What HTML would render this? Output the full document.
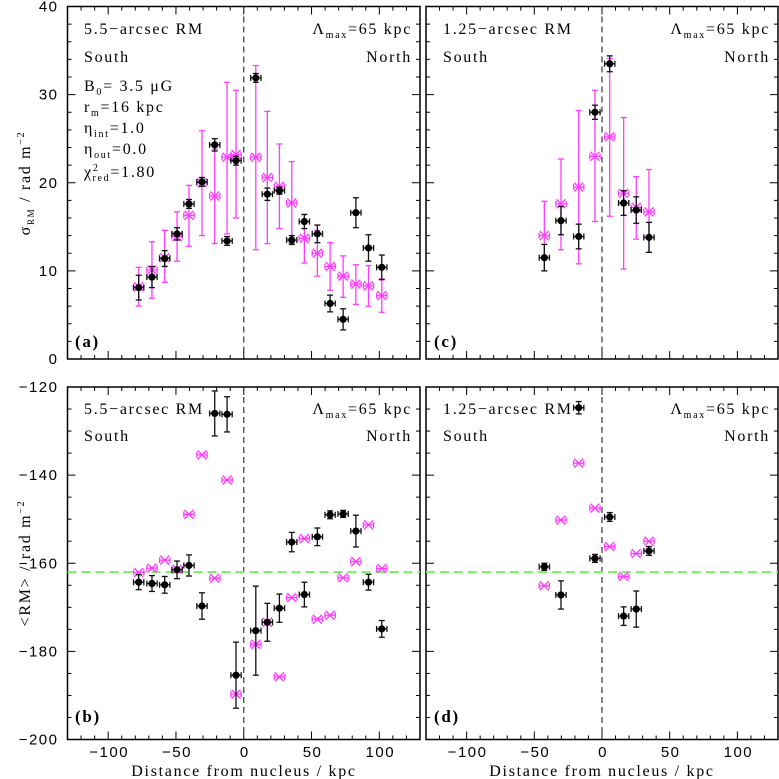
<!DOCTYPE html>
<html><head><meta charset="utf-8"><style>
html,body{margin:0;padding:0;background:#fff;}
svg{display:block;}
.sf{font-family:"Liberation Serif",serif;letter-spacing:1.7px;}
.ss{font-family:"Liberation Sans",sans-serif;letter-spacing:1.5px;}
</style></head><body>
<svg id="chart" width="779" height="779" viewBox="0 0 779 779" xmlns="http://www.w3.org/2000/svg">
<g id="layer"></g>
<g class="sf" font-size="16" fill="#000">
  <text x="84" y="34">5.5−arcsec RM</text>
  <text x="84" y="62">South</text>
  <text x="412" y="34" text-anchor="end">Λ<tspan font-size="10" dy="4">max</tspan><tspan dy="-4">=65 kpc</tspan></text>
  <text x="412" y="62" text-anchor="end">North</text>
  <text x="84" y="91">B<tspan font-size="10" dy="4">0</tspan><tspan dy="-4">= 3.5 μG</tspan></text>
  <text x="84" y="112">r<tspan font-size="10" dy="4">m</tspan><tspan dy="-4">=16 kpc</tspan></text>
  <text x="84" y="133">η<tspan font-size="10" dy="4">int</tspan><tspan dy="-4">=1.0</tspan></text>
  <text x="84" y="154">η<tspan font-size="10" dy="4">out</tspan><tspan dy="-4">=0.0</tspan></text>
  <text x="84" y="177">χ<tspan font-size="10" dy="-6">2</tspan><tspan font-size="10" dx="-7" dy="10">red</tspan><tspan dy="-4">=1.80</tspan></text>
  <text x="75" y="347" font-weight="bold" font-size="17">(a)</text>

  <text x="443" y="34">1.25−arcsec RM</text>
  <text x="443" y="62">South</text>
  <text x="770" y="34" text-anchor="end">Λ<tspan font-size="10" dy="4">max</tspan><tspan dy="-4">=65 kpc</tspan></text>
  <text x="770" y="62" text-anchor="end">North</text>
  <text x="434" y="347" font-weight="bold" font-size="17">(c)</text>

  <text x="84" y="414">5.5−arcsec RM</text>
  <text x="84" y="441">South</text>
  <text x="412" y="414" text-anchor="end">Λ<tspan font-size="10" dy="4">max</tspan><tspan dy="-4">=65 kpc</tspan></text>
  <text x="412" y="441" text-anchor="end">North</text>
  <text x="75" y="722" font-weight="bold" font-size="17">(b)</text>

  <text x="443" y="414">1.25−arcsec RM</text>
  <text x="443" y="441">South</text>
  <text x="770" y="414" text-anchor="end">Λ<tspan font-size="10" dy="4">max</tspan><tspan dy="-4">=65 kpc</tspan></text>
  <text x="770" y="441" text-anchor="end">North</text>
  <text x="434" y="722" font-weight="bold" font-size="17">(d)</text>

  <text transform="translate(30,183) rotate(-90)" text-anchor="middle">σ<tspan font-size="9" dy="4">RM</tspan><tspan dy="-4"> / rad m</tspan><tspan font-size="10" dy="-6">−2</tspan></text>
  <text transform="translate(30,563) rotate(-90)" text-anchor="middle">&lt;RM&gt; / rad m<tspan font-size="10" dy="-6">−2</tspan></text>
  <text x="244" y="776" text-anchor="middle">Distance from nucleus / kpc</text>
  <text x="602" y="776" text-anchor="middle">Distance from nucleus / kpc</text>
</g>
</svg>
<script>
// ---- data ----
const kpc55 = [-77.5,-67.7,-58.3,-49.2,-40.4,-30.8,-21.4,-12.3,-5.7,8.9,17.4,26.3,35.4,44.7,54.3,63.7,73.3,82.7,92,101.8];
const sigBlack55 = [8.1,9.3,11.4,14.2,17.6,20.1,24.3,13.4,22.5,31.9,18.7,19.1,13.5,15.6,14.2,6.3,4.5,16.6,12.6,10.4];
const sigBlackErr55 = [1.4,1.2,0.9,0.7,0.5,0.5,0.7,0.5,0.5,0.5,0.7,0.4,0.5,0.8,1.0,0.95,1.2,1.7,1.5,1.4];
const sigMag55 = [8.2,10.1,11.5,13.9,16.3,20.0,18.5,22.9,23.2,22.9,20.6,19.6,17.7,13.7,12.0,10.5,9.4,8.5,8.3,7.2];
const sigMagHi55 = [10.4,13.3,14.6,16.7,19.7,25.9,23.8,31.4,30.5,33.3,28.1,24.4,22.4,16.4,14.6,13.2,11.7,10.7,10.6,9.1];
const sigMagLo55 = [6.0,6.9,8.7,11.1,12.8,14.0,13.1,14.2,16.0,12.4,13.1,14.8,13.1,10.9,9.4,7.8,7.0,6.2,6.0,5.3];
const rmBlack55 = [-164.3,-164.6,-164.9,-161.5,-160.5,-169.7,-126.0,-126.2,-185.4,-175.3,-173.4,-170.2,-155.2,-167.1,-154.0,-149.0,-148.8,-152.7,-164.3,-174.9];
const rmBlackErr55 = [1.7,1.8,1.9,2.0,2.4,3.0,5.1,4.0,7.5,10.1,4.3,3.2,2.2,2.8,2.0,0.9,0.8,3.6,1.8,1.9];
const rmMag55 = [-162.1,-161.1,-159.3,-161.4,-148.9,-135.4,-163.4,-141.1,-189.7,-178.4,-173.4,-185.8,-167.8,-154.4,-172.7,-171.8,-163.3,-159.6,-151.3,-161.2];
const kpc125 = [-42.6,-30.3,-17.2,-5.2,5.7,16.0,25.3,34.7];
const sigBlack125 = [11.5,15.7,13.9,28.0,33.5,17.7,16.9,13.8];
const sigBlackErr125 = [1.5,1.6,1.4,0.8,0.9,1.4,1.5,1.7];
const sigMag125 = [14.0,17.6,19.5,23.0,25.2,18.8,17.2,16.7];
const sigMagHi125 = [17.9,22.7,28.2,30.5,34.1,27.4,20.7,21.5];
const sigMagLo125 = [10.0,12.4,10.8,15.6,16.2,10.2,13.6,12.1];
const rmBlack125 = [-160.8,-167.2,-124.7,-158.9,-149.5,-172.0,-170.4,-157.2];
const rmBlackErr125 = [0.8,3.2,1.4,0.9,1.0,2.1,4.1,1.0];
const rmMag125 = [-165.1,-150.2,-137.3,-147.5,-156.2,-163.0,-157.8,-155.0];
const rmRef = -162;
const xTicks = [-100,-50,0,50,100];
const xTickLabels = ["−100","−50","0","50","100"];
const sigTicks = [0,10,20,30,40];
const rmTicks = [-200,-180,-160,-140,-120];
const rmTickLabels = ["−200","−180","−160","−140","−120"];
const xErrKpc = 3.8;

const NS = "http://www.w3.org/2000/svg";
const layer = document.getElementById('layer');
function mk(tag, attrs, parent){
  const e = document.createElementNS(NS, tag);
  for (const k in attrs) e.setAttribute(k, attrs[k]);
  (parent||layer).appendChild(e);
  return e;
}
function panel(name, x0, x1, y0, y1, ymin, ymax, yMinor, showY, showX, yTicks, yLabels){
  const p = {x0,x1,y0,y1,ymin,ymax,
    sx: v => x0 + (v + 130) / 260 * (x1 - x0),
    sy: v => y1 - (v - ymin) / (ymax - ymin) * (y1 - y0)};
  const g = mk('g', {});
  
  
  p.g = g;
  for (let k = -130; k <= 130; k += 10) {
    const major = k % 50 === 0;
    const L = major ? 8 : 4;
    const x = p.sx(k);
    mk('line', {x1:x, x2:x, y1:y1, y2:y1-L, stroke:'#000','stroke-width':1}, g);
    mk('line', {x1:x, x2:x, y1:y0, y2:y0+L, stroke:'#000','stroke-width':1}, g);
  }
  for (let v = ymin; v <= ymax + 1e-9; v += yMinor) {
    const major = Math.abs(Math.round(v/10)*10 - v) < 1e-6 && (ymax - ymin === 40 ? true : v % 20 === 0);
    const L = major ? 8 : 4;
    const y = p.sy(v);
    mk('line', {x1:x0, x2:x0+L, y1:y, y2:y, stroke:'#000','stroke-width':1}, g);
    mk('line', {x1:x1, x2:x1-L, y1:y, y2:y, stroke:'#000','stroke-width':1}, g);
  }
  if (showY) {
    yTicks.forEach((v, i) => {
      const t = mk('text', {x:x0-9, y:p.sy(v)+5, 'text-anchor':'end', class:'ss', 'font-size':15}, g);
      
      
      t.textContent = yLabels[i];
    });
  }
  if (showX) {
    xTicks.forEach((v, i) => {
      const t = mk('text', {x:p.sx(v)+1, y:757, 'text-anchor':'middle', class:'ss', 'font-size':15}, g);
      
      
      t.textContent = xTickLabels[i];
    });
  }
  const zl = mk('line', {x1:p.sx(0), x2:p.sx(0), y1:y0, y2:y1, stroke:'#444','stroke-width':1.3,'stroke-dasharray':'6,4'}, g);
  
  
  const fr = mk('rect', {x:x0, y:y0, width:x1-x0, height:y1-y0, fill:'none', stroke:'#000','stroke-width':1.5}, g);
  
  
  return p;
}
function errV(p, x, lo, hi, col, g){
  const a = p.sy(lo), b = p.sy(hi);
  mk('line', {x1:x, x2:x, y1:a, y2:b, stroke:col, 'stroke-width':1.3}, g);
  mk('line', {x1:x-3, x2:x+3, y1:a, y2:a, stroke:col, 'stroke-width':1.3}, g);
  mk('line', {x1:x-3, x2:x+3, y1:b, y2:b, stroke:col, 'stroke-width':1.3}, g);
}
function errH(p, k, y, col, g){
  const a = p.sx(k - xErrKpc), b = p.sx(k + xErrKpc);
  mk('line', {x1:a, x2:b, y1:y, y2:y, stroke:col, 'stroke-width':1.3}, g);
  mk('line', {x1:a, x2:a, y1:y-3, y2:y+3, stroke:col, 'stroke-width':1.3}, g);
  mk('line', {x1:b, x2:b, y1:y-3, y2:y+3, stroke:col, 'stroke-width':1.3}, g);
}
function magenta(p, kpcArr, vals, lo, hi, sname){
  const MC = '#ff3cff';
  kpcArr.forEach((k, i) => {
    const g = mk('g', {}, p.g);
    
    
    const x = p.sx(k), y = p.sy(vals[i]);
    if (lo) errV(p, x, lo[i], hi[i], MC, g);
    errH(p, k, y, MC, g);
    mk('path', {d:`M${x-4.5},${y-4.5}L${x+4.5},${y+4.5}M${x-4.5},${y+4.5}L${x+4.5},${y-4.5}`, stroke:MC, 'stroke-width':1.4}, g);
  });
}
function black(p, kpcArr, vals, err, sname){
  const BC = '#111';
  kpcArr.forEach((k, i) => {
    const g = mk('g', {}, p.g);
    
    
    const x = p.sx(k), y = p.sy(vals[i]);
    errV(p, x, vals[i] - err[i], vals[i] + err[i], BC, g);
    errH(p, k, y, BC, g);
    mk('circle', {cx:x, cy:y, r:3.6, fill:'#000'}, g);
  });
}
const sigLabels = sigTicks.map(String);
const pa = panel('panel-a', 67.5, 420, 6.5, 359, 0, 40, 2, true, false, sigTicks, sigLabels);
const pc = panel('panel-c', 426, 778, 6.5, 359, 0, 40, 2, false, false, sigTicks, sigLabels);
const pb = panel('panel-b', 67.5, 420, 387, 739.5, -200, -120, 5, true, true, rmTicks, rmTickLabels);
const pd = panel('panel-d', 426, 778, 387, 739.5, -200, -120, 5, false, true, rmTicks, rmTickLabels);
[pb, pd].forEach(p => {
  const l = mk('line', {x1:p.x0, x2:p.x1, y1:p.sy(rmRef), y2:p.sy(rmRef), stroke:'#77ee66', 'stroke-width':2, 'stroke-dasharray':'9,5'}, p.g);
  
  
});
magenta(pa, kpc55, sigMag55, sigMagLo55, sigMagHi55, 'model-sigma');
black(pa, kpc55, sigBlack55, sigBlackErr55, 'observed-sigma');
magenta(pc, kpc125, sigMag125, sigMagLo125, sigMagHi125, 'model-sigma');
black(pc, kpc125, sigBlack125, sigBlackErr125, 'observed-sigma');
magenta(pb, kpc55, rmMag55, null, null, 'model-rm');
black(pb, kpc55, rmBlack55, rmBlackErr55, 'observed-rm');
magenta(pd, kpc125, rmMag125, null, null, 'model-rm');
black(pd, kpc125, rmBlack125, rmBlackErr125, 'observed-rm');
</script>
</body></html>
